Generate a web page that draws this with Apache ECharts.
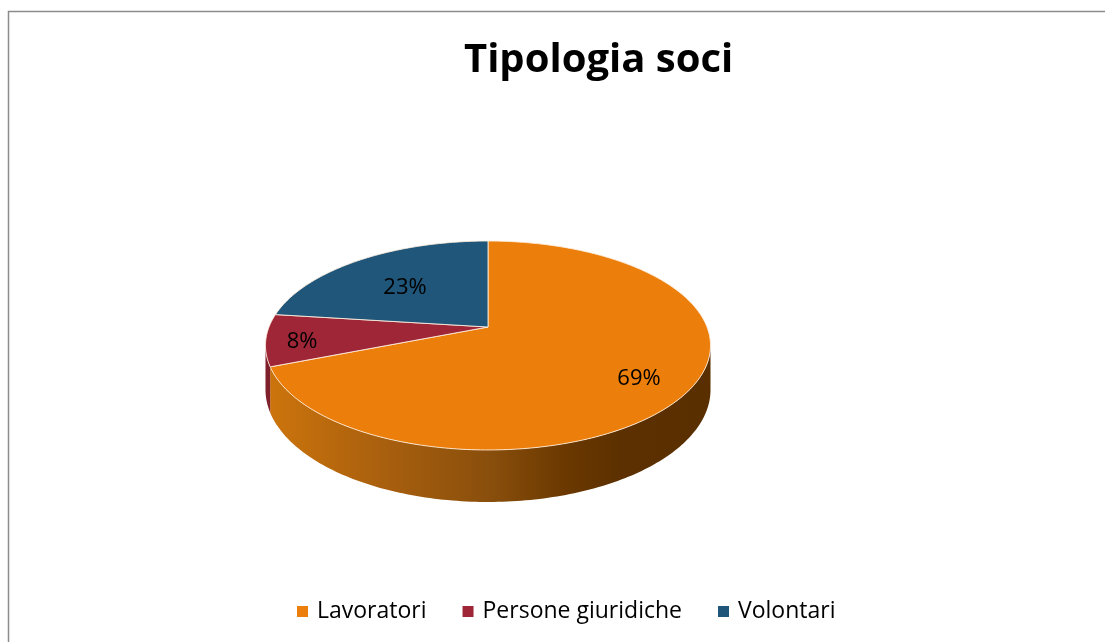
<!DOCTYPE html>
<html>
<head>
<meta charset="utf-8">
<title>Tipologia soci</title>
<script src="https://cdn.jsdelivr.net/npm/echarts@6/dist/echarts.min.js"></script>
<style>
  html, body { margin: 0; padding: 0; background: #fff; }
  #chart { width: 1105px; height: 642px; }
</style>
</head>
<body>
<div id="chart"></div>
<script>
// dati
var categories = ['Lavoratori', 'Persone giuridiche', 'Volontari'];
var values = [69, 8, 23];

// colori delle fette (faccia superiore) e dei bordi laterali
var topColors = ['#ec7f0b', '#9e2636', '#1f5679'];
var sideStops = [
    [[0, '#cd750c'], [0.27, '#a85f0e'], [0.5, '#8a4f0c'], [0.68, '#6a3800'], [0.8, '#5c3000'], [1, '#5a2f00']],
    [[0, '#80202d'], [1, '#5a1520']],
    [[0, '#184563'], [1, '#0f2f45']]
];
// distanza dell'etichetta dal centro (frazione del raggio)
var labelDepth = [0.77, 0.84, 0.62];

(function () {
    var chart = echarts.init(document.getElementById('chart'));

    // prospettiva della torta 3D
    var cx = 488, cy = 327;   // centro della torta
    var ra = 219, rb = 101.2; // semiassi
    var ecc = 0.177;          // effetto prospettico
    var depth = 42.8;         // spessore
    var visLo = Math.acos(-ecc) * 180 / Math.PI, visHi = 360 - visLo;

    var total = values.reduce(function (s, v) { return s + v; }, 0);
    var cum = [0];
    values.forEach(function (v, i) { cum.push(cum[i] + v); });

    function proj(phi, t) {
        var r = phi * Math.PI / 180;
        var s = Math.sin(r) * t, c = Math.cos(r) * t;
        var d = 1 + ecc * c;
        return [cx + ra * s / d, cy - rb * c / d];
    }
    function drop(phi) {
        return depth / (1 + ecc * Math.cos(phi * Math.PI / 180));
    }
    function arc(a0, a1) {
        var pts = [];
        var n = Math.max(2, Math.ceil(Math.abs(a1 - a0)));
        for (var i = 0; i <= n; i++) {
            pts.push(a0 + (a1 - a0) * i / n);
        }
        return pts;
    }

    function makeRender(k) {
        return function (params, api) {
            var a0 = cum[k] / total * 360, a1 = cum[k + 1] / total * 360;
            var children = [];

            // lato visibile
            var lo = Math.max(a0, visLo), hi = Math.min(a1, visHi);
            if (lo < hi) {
                var side = [];
                arc(lo, hi).forEach(function (p) { side.push(proj(p, 1)); });
                arc(hi, lo).forEach(function (p) {
                    var q = proj(p, 1);
                    side.push([q[0], q[1] + drop(p)]);
                });
                children.push({
                    type: 'polygon',
                    shape: { points: side },
                    style: {
                        fill: {
                            type: 'linear', x: 265, y: 0, x2: 710, y2: 0, global: true,
                            colorStops: sideStops[k].map(function (s) { return { offset: s[0], color: s[1] }; })
                        },
                        stroke: null
                    }
                });
            }

            // faccia superiore
            var topPts = [[cx, cy]];
            arc(a0, a1).forEach(function (p) { topPts.push(proj(p, 1)); });
            children.push({
                type: 'polygon',
                shape: { points: topPts },
                style: {
                    fill: topColors[k],
                    stroke: 'rgba(255,240,225,0.85)',
                    lineWidth: 1
                }
            });

            // etichetta percentuale
            var lp = proj((a0 + a1) / 2, labelDepth[k]);
            children.push({
                type: 'text',
                style: {
                    x: lp[0],
                    y: lp[1] + 4,
                    text: Math.round(values[k] / total * 100) + '%',
                    fill: '#000',
                    font: '22px "Open Sans"',
                    textAlign: 'center',
                    textVerticalAlign: 'middle'
                }
            });

            return { type: 'group', children: children };
        };
    }

    var series = categories.map(function (name, k) {
        return {
            type: 'custom',
            name: name,
            coordinateSystem: 'none',
            itemStyle: { color: topColors[k] },
            renderItem: makeRender(k),
            data: [values[k]]
        };
    });

    var option = {
        animation: false,
        title: {
            text: 'Tipologia soci',
            left: 464,
            top: 41,
            padding: 0,
            textStyle: {
                fontFamily: 'Open Sans',
                fontWeight: 'bold',
                fontSize: 40,
                color: '#000'
            }
        },
        legend: {
            data: categories,
            left: 297,
            top: 600,
            padding: 0,
            icon: 'rect',
            itemWidth: 11,
            itemHeight: 11,
            itemGap: 36,
            textStyle: {
                fontFamily: 'Open Sans',
                fontSize: 23,
                color: '#000',
                padding: [0, 0, 0, 4]
            }
        },
        graphic: [{
            type: 'rect',
            silent: true,
            shape: { x: 8.5, y: 11.5, width: 1200, height: 700 },
            style: { fill: 'none', stroke: '#8c8c8c', lineWidth: 1.5 }
        }],
        series: series
    };

    chart.setOption(option);
})();
</script>
</body>
</html>
